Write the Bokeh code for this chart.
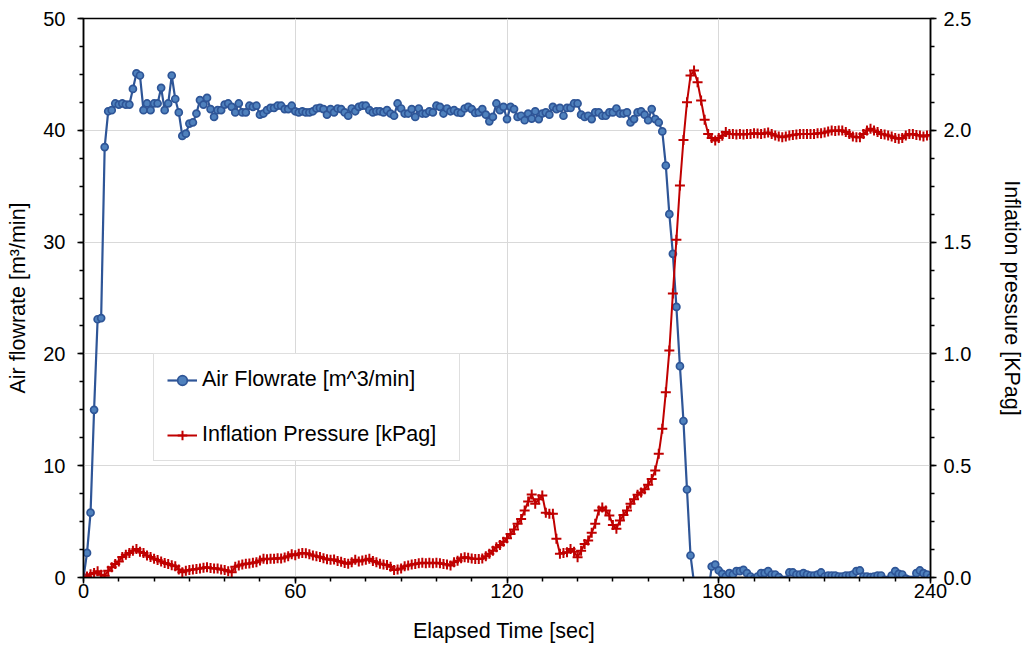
from bokeh.plotting import figure
from bokeh.models import Range1d, LinearAxis, SingleIntervalTicker, NumeralTickFormatter, Legend, LegendItem
from bokeh.embed import file_html
from bokeh.resources import INLINE

# ---- data ----
time_sec = list(range(0, 241))

air_flowrate = [
    0, 2.2, 5.8, 15.0, 23.1, 23.2, 38.5, 41.7, 41.8, 42.4,
    42.3, 42.4, 42.3, 42.3, 43.7, 45.1, 44.9, 41.8, 42.4, 41.8,
    42.4, 42.4, 43.8, 41.8, 42.4, 44.9, 42.8, 41.6, 39.5, 39.7,
    40.6, 40.7, 41.5, 42.7, 42.3, 42.9, 41.9, 41.2, 41.8, 41.8,
    42.3, 42.4, 42.1, 41.6, 42.4, 41.6, 41.6, 42.2, 42.1, 42.2,
    41.4, 41.5, 41.8, 42.0, 42.0, 42.2, 42.2, 41.9, 41.9, 42.2,
    41.7, 41.6, 41.7, 41.6, 41.6, 41.7, 41.95, 42.0, 41.9, 41.4,
    41.9, 41.6, 41.95, 41.9, 41.6, 41.3, 41.95, 41.7, 42.1, 42.2,
    42.2, 41.8, 41.6, 41.7, 41.7, 41.6, 41.8, 41.5, 41.3, 42.4,
    41.95, 41.5, 41.5, 41.9, 41.2, 41.95, 41.5, 41.5, 41.7, 41.6,
    42.2, 42.1, 41.5, 41.95, 41.7, 41.8, 41.6, 41.55, 41.95, 42.1,
    41.9, 41.55, 41.6, 41.9, 41.4, 40.8, 41.2, 42.4, 41.8, 42.1,
    41.0, 42.1, 41.9, 41.2, 41.3, 40.9, 41.5, 41.05, 41.7, 41.0,
    41.5, 41.6, 41.4, 42.1, 41.9, 42.0, 41.3, 42.0, 42.0, 42.4,
    42.4, 41.4, 41.2, 41.3, 41.0, 41.6, 41.6, 41.3, 41.3, 41.6,
    41.6, 41.95, 41.5, 41.5, 41.6, 40.7, 41.0, 41.6, 41.7, 41.4,
    40.9, 41.9, 41.0, 40.7, 39.9, 36.85, 32.5, 28.95, 24.2, 18.9,
    14.0, 7.87, 1.97, -0.5, -1.0, -1.0, -1.0, -1.5, 0.98, 1.16,
    0.63, 0.33, 0.09, 0.39, 0.27, 0.57, 0.57, 0.69, 0.39, 0.09,
    -0.1, 0.09, 0.39, 0.39, 0.57, 0.27, 0.27, 0.03, -0.2, -0.2,
    0.45, 0.45, 0.27, 0.27, 0.39, 0.27, 0.18, 0.18, 0.27, 0.45,
    0.09, 0.18, 0.18, 0.18, 0.09, 0.09, 0.18, 0.18, 0.27, 0.57,
    0.63, 0.09, 0.09, 0.03, 0.09, 0.18, 0.18, -0.2, -0.2, 0.18,
    0.57, 0.33, 0.27, -0.1, -0.2, -0.2, 0.39, 0.63, 0.39, 0.27, 0.0,
]

inflation_pressure = [
    0.0, 0.005, 0.015, 0.02, 0.028, 0.012, 0.008, 0.03, 0.046, 0.06,
    0.072, 0.092, 0.102, 0.11, 0.12, 0.128, 0.115, 0.11, 0.098, 0.092,
    0.084, 0.078, 0.072, 0.065, 0.06, 0.055, 0.05, 0.036, 0.024, 0.03,
    0.034, 0.036, 0.038, 0.04, 0.044, 0.046, 0.042, 0.04, 0.04, 0.036,
    0.034, 0.028, 0.024, 0.048, 0.054, 0.058, 0.061, 0.063, 0.066, 0.068,
    0.076, 0.084, 0.082, 0.084, 0.084, 0.086, 0.085, 0.089, 0.095, 0.104,
    0.1, 0.106, 0.11, 0.108, 0.104, 0.098, 0.095, 0.092, 0.086, 0.082,
    0.079, 0.08, 0.074, 0.07, 0.065, 0.061, 0.068, 0.079, 0.072, 0.076,
    0.079, 0.084, 0.074, 0.068, 0.062, 0.058, 0.056, 0.048, 0.034, 0.036,
    0.04, 0.05, 0.054, 0.058, 0.06, 0.064, 0.066, 0.064, 0.066, 0.064,
    0.066, 0.064, 0.06, 0.058, 0.054, 0.068, 0.075, 0.086, 0.091, 0.088,
    0.085, 0.083, 0.083, 0.085, 0.095, 0.106, 0.12, 0.135, 0.145, 0.16,
    0.175, 0.195, 0.215, 0.24, 0.262, 0.3, 0.34, 0.371, 0.33, 0.35,
    0.367, 0.29, 0.285, 0.285, 0.173, 0.106, 0.11, 0.113, 0.128, 0.115,
    0.091, 0.12, 0.15, 0.165, 0.2, 0.24, 0.3, 0.313, 0.3, 0.277,
    0.235, 0.218, 0.255, 0.28, 0.3, 0.33, 0.35, 0.37, 0.38, 0.395,
    0.415, 0.44, 0.479, 0.553, 0.665, 0.829, 1.015, 1.27, 1.51, 1.753,
    1.957, 2.126, 2.245, 2.267, 2.215, 2.133, 2.047, 1.984, 1.966, 1.954,
    1.966, 1.976, 1.992, 1.984, 1.984, 1.981, 1.984, 1.981, 1.984, 1.984,
    1.987, 1.986, 1.984, 1.987, 1.99, 1.984, 1.977, 1.972, 1.969, 1.972,
    1.977, 1.979, 1.981, 1.984, 1.984, 1.984, 1.984, 1.984, 1.987, 1.987,
    1.99, 1.995, 1.999, 1.997, 1.999, 1.999, 1.992, 1.984, 1.972, 1.969,
    1.969, 1.984, 1.999, 2.007, 1.999, 1.992, 1.984, 1.981, 1.977, 1.972,
    1.966, 1.962, 1.966, 1.977, 1.984, 1.984, 1.979, 1.977, 1.972, 1.977, 1.979,
]

series_labels = ["Air Flowrate [m^3/min]", "Inflation Pressure [kPag]"]
x_label = "Elapsed Time  [sec]"
y_left_label = "Air flowrate [m\u00b3/min]"
y_right_label = "Inflation pressure [KPag]"

# ---- styling ----
FONT = "Liberation Sans"
BLUE_LINE = "#2E5597"
BLUE_FILL = "#4F81BD"
RED = "#C00000"
GRID = "#D9D9D9"

p = figure(
    frame_width=847, frame_height=559,
    x_range=Range1d(0, 240), y_range=Range1d(0, 50),
    output_backend="svg", toolbar_location=None,
    min_border_left=83, min_border_right=90, min_border_top=18, min_border_bottom=70,
    background_fill_color="white", border_fill_color="white",
)
p.extra_y_ranges = {"press": Range1d(0, 2.5)}

p.outline_line_color = "black"
p.outline_line_width = 1.5
p.outline_line_alpha = 1.0

p.xaxis.ticker = SingleIntervalTicker(interval=60, num_minor_ticks=6)
p.yaxis.ticker = SingleIntervalTicker(interval=10, num_minor_ticks=4)

right_axis = LinearAxis(y_range_name="press",
                        ticker=SingleIntervalTicker(interval=0.5, num_minor_ticks=4),
                        formatter=NumeralTickFormatter(format="0.0"))
p.add_layout(right_axis, "right")

for ax in [p.xaxis[0], p.yaxis[0], right_axis]:
    ax.axis_line_color = "black"
    ax.axis_line_width = 1.5
    ax.major_tick_line_color = "black"
    ax.major_tick_line_width = 1.5
    ax.minor_tick_line_color = "black"
    ax.minor_tick_line_width = 1.5
    ax.major_tick_in = 0
    ax.major_tick_out = 6
    ax.minor_tick_in = 0
    ax.minor_tick_out = 4
    ax.major_label_text_font = FONT
    ax.major_label_text_font_size = "20px"
    ax.major_label_text_color = "black"
    ax.axis_label_text_font = FONT
    ax.axis_label_text_font_size = "21.5px"
    ax.axis_label_text_font_style = "normal"
    ax.axis_label_text_color = "black"

p.xaxis.axis_label = x_label
p.yaxis.axis_label = y_left_label
right_axis.axis_label = y_right_label
p.xaxis.major_label_standoff = 0
p.xaxis.axis_label_standoff = 18
p.yaxis.major_label_standoff = 12
p.yaxis.axis_label_standoff = 10
right_axis.major_label_standoff = 7
right_axis.axis_label_standoff = 26

p.xgrid.grid_line_color = GRID
p.ygrid.grid_line_color = GRID
p.xgrid.grid_line_width = 1
p.ygrid.grid_line_width = 1

# ---- series ----
bl = p.line(time_sec, air_flowrate, line_color=BLUE_LINE, line_width=2.2)
bm = p.scatter(time_sec, air_flowrate, marker="circle", size=7,
               fill_color=BLUE_FILL, line_color=BLUE_LINE, line_width=1.7)

rl = p.line(time_sec, inflation_pressure, line_color=RED, line_width=2, y_range_name="press")
rm = p.scatter(time_sec, inflation_pressure, marker="cross", size=10,
               line_color=RED, line_width=2, y_range_name="press")

legend = Legend(items=[
    LegendItem(label=series_labels[0], renderers=[bl, bm]),
    LegendItem(label=series_labels[1], renderers=[rl, rm]),
], location=(70, 116))
legend.label_text_font = FONT
legend.label_text_font_size = "21.5px"
legend.label_text_color = "black"
legend.border_line_color = "#BFBFBF"
legend.border_line_width = 1
legend.background_fill_color = "white"
legend.background_fill_alpha = 1.0
legend.padding = 13
legend.spacing = 30
legend.margin = 0
legend.glyph_width = 30
legend.glyph_height = 24
legend.label_height = 24
legend.label_standoff = 5
legend.label_width = 244
p.add_layout(legend, "center")

open("out.html", "w").write(file_html(p, INLINE))
